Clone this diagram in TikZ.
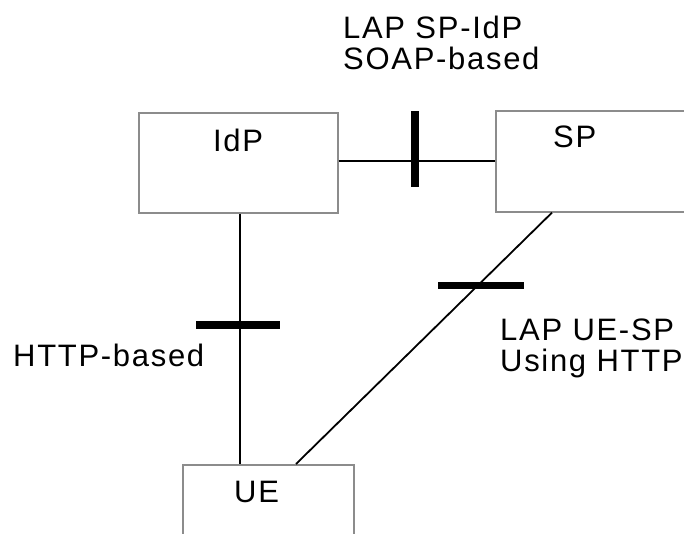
\documentclass[tikz,border=0pt]{standalone}
\usepackage{fontspec}
\setmainfont{Liberation Sans}[LetterSpace=5.5]
\definecolor{boxgray}{RGB}{140,140,140}

\begin{document}
\begin{tikzpicture}[x=1pt,y=-1pt]
        \tikzset{box/.style = {shape=rectangle,draw=boxgray,line width=1.6pt,inner sep=0pt,anchor=north west}}
        \tikzset{tag/.style = {inner sep=0pt,anchor=base west,font=\fontsize{31}{31}\selectfont}}
        \tikzset{note/.style = {inner sep=0pt,anchor=north west,align=left,font=\fontsize{31}{31}\selectfont}}
        \tikzset{link/.style = {line width=1.8pt}}
        \tikzset{tick/.style = {shape=rectangle,fill,inner sep=0pt}}
        \useasboundingbox (0,0) rectangle (684,534);
        % boxes
        \node[box,minimum width=199pt,minimum height=100pt] (idp) at (138,112) {};
        \node[box,minimum width=230pt,minimum height=101pt] (sp)  at (495,110) {};
        \node[box,minimum width=171pt,minimum height=100pt] (ue)  at (182,464) {};
        \node[tag] (idp-t) at ([xshift=75pt,yshift=-40pt]idp.north west) {IdP};
        \node[tag] (sp-t)  at ([xshift=58pt,yshift=-38pt]sp.north west)  {SP};
        \node[tag] (ue-t)  at ([xshift=52pt,yshift=-38pt]ue.north west)  {UE};
        % links
        \draw[link] (idp.east |- sp.west) -- node[tick,pos=.487,yshift=12pt,minimum width=8pt,minimum height=76pt] (tick-a) {} (sp.west);
        \draw[link] ([xshift=1.5pt]idp.south) -- node[tick,pos=.444,xshift=-2pt,minimum width=84pt,minimum height=7.5pt] (tick-b) {} ([xshift=1.5pt]idp.south |- ue.north);
        \draw[link] ([xshift=57pt]sp.south west) -- node[tick,pos=.289,xshift=3pt,minimum width=86pt,minimum height=7.5pt] (tick-c) {} ([xshift=114pt]ue.north west);
        % labels
        \node[note] (lap-a) at (343,16)  {LAP SP-IdP\\SOAP-based};
        \node[tag]  (lap-b) at (13,366)  {HTTP-based};
        \node[note] (lap-c) at (500,319) {LAP UE-SP\\Using HTTP};
\end{tikzpicture}
\end{document}
